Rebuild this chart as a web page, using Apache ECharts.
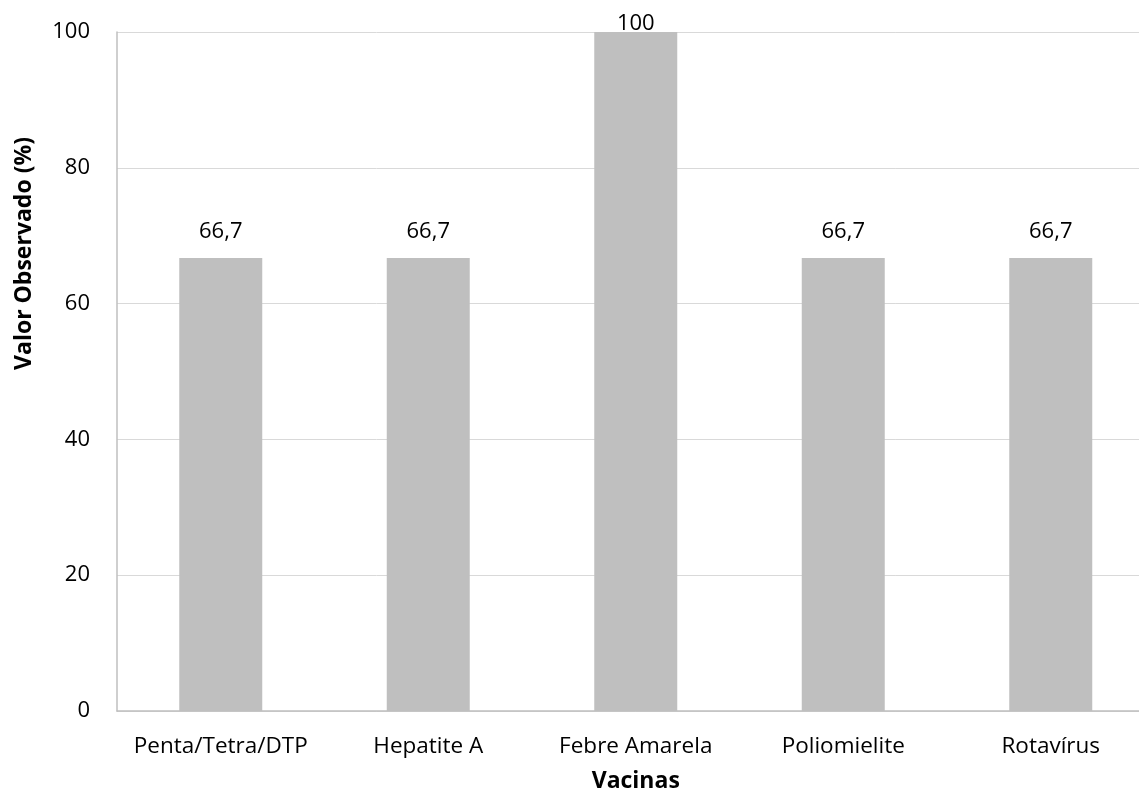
<!DOCTYPE html>
<html><head><meta charset="utf-8">
<script src="https://cdn.jsdelivr.net/npm/echarts@6/dist/echarts.min.js"></script>
<style>html,body{margin:0;padding:0;background:#fff;overflow:hidden;width:1139px;height:790px}#c{width:1155px;height:790px}</style>
</head><body><div id="c"></div>
<script>
const categories = ['Penta/Tetra/DTP', 'Hepatite A', 'Febre Amarela', 'Poliomielite', 'Rotavírus'];
const values = [66.7, 66.7, 100, 66.7, 66.7];
const yTicks = [0, 20, 40, 60, 80, 100];
const fmt = v => String(v).replace('.', ',');
const font = "'Open Sans', 'Liberation Sans', sans-serif";
const chart = echarts.init(document.getElementById('c'), null, {renderer: 'canvas'});
chart.setOption({
  animation: false,
  grid: {left: 117, top: 32, right: 0.5, bottom: 79, containLabel: false, outerBoundsMode: 'none'},
  xAxis: {
    type: 'category', data: categories,
    name: 'Vacinas', nameLocation: 'middle', nameGap: 59,
    nameTextStyle: {fontFamily: font, fontWeight: 'bold', fontSize: 23, color: '#000'},
    axisLine: {lineStyle: {color: '#bfbfbf', width: 1.5}},
    axisTick: {show: false},
    axisLabel: {fontFamily: font, fontSize: 22.5, color: '#000', margin: 24, interval: 0}
  },
  yAxis: {
    type: 'value', min: 0, max: 100, interval: 20,
    name: 'Valor Observado (%)', nameLocation: 'middle', nameGap: 81, nameRotate: 90,
    nameTextStyle: {fontFamily: font, fontWeight: 'bold', fontSize: 23, color: '#000',
      padding: [0, 0, 0, 236]},
    axisLine: {show: true, lineStyle: {color: '#bfbfbf', width: 1.5}},
    axisTick: {show: false},
    splitLine: {lineStyle: {color: '#d9d9d9', width: 1}},
    axisLabel: {fontFamily: font, fontSize: 22, color: '#000', margin: 27,
      formatter: v => yTicks.includes(v) ? String(v) : ''}
  },
  series: [{
    type: 'bar', barWidth: 83,
    itemStyle: {color: '#bfbfbf'},
    data: values.map(v => ({value: v, label: v >= 100 ? {distance: -3} : {}})),
    label: {show: true, position: 'top', distance: 15, fontFamily: font, fontSize: 22, color: '#000',
      formatter: p => fmt(p.value)}
  }]
});
</script></body></html>
